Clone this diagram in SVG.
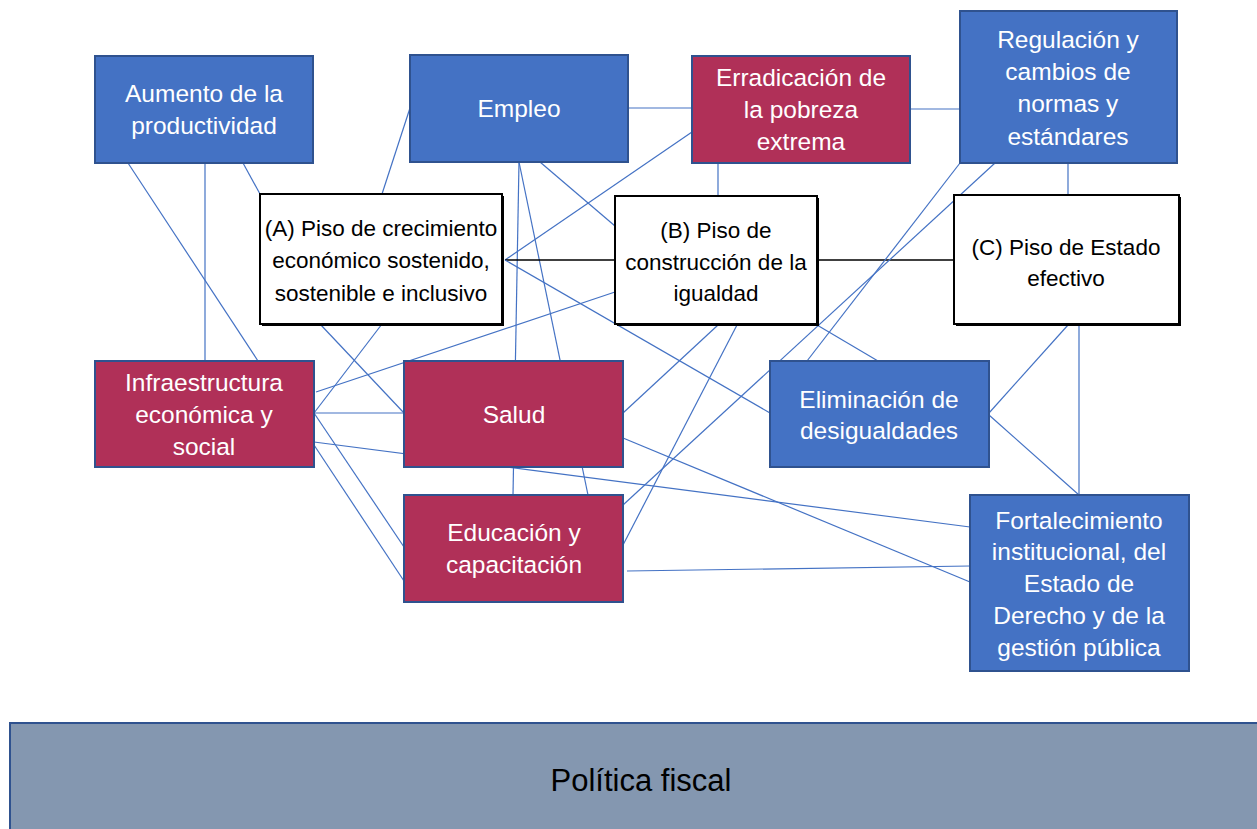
<svg xmlns="http://www.w3.org/2000/svg" width="1257" height="829" viewBox="0 0 1257 829">
<style>
.c{stroke:#4472C4;stroke-width:1.2;fill:none}
.k{stroke:#000;stroke-width:1.5;fill:none}
.b{fill:#4472C4;stroke:#2F528F;stroke-width:2}
.r{fill:#B03058;stroke:#2F528F;stroke-width:2}
.w{fill:#fff;stroke:#000;stroke-width:2}
.sh{fill:#000}
.tw{font-family:"Liberation Sans",Arial,sans-serif;font-size:24.5px;fill:#fff;text-anchor:middle}
.tb{font-family:"Liberation Sans",Arial,sans-serif;font-size:22.5px;fill:#000;text-anchor:middle}
.tf{font-family:"Liberation Sans",Arial,sans-serif;font-size:31px;fill:#000;text-anchor:middle}
</style>
<rect width="1257" height="829" fill="#fff"/>
<g id="connectors">
<line class="c" x1="128" y1="163" x2="258" y2="361"/>
<line class="c" x1="205" y1="163" x2="205" y2="361"/>
<line class="c" x1="243" y1="163" x2="260" y2="194"/>
<line class="c" x1="410" y1="108" x2="382" y2="194"/>
<line class="c" x1="628" y1="108" x2="692" y2="108"/>
<line class="c" x1="519" y1="162" x2="513" y2="495"/>
<line class="c" x1="519" y1="162" x2="588" y2="495"/>
<line class="c" x1="540" y1="162" x2="615" y2="226"/>
<line class="c" x1="692" y1="132" x2="505" y2="260"/>
<line class="c" x1="910" y1="109" x2="960" y2="109"/>
<line class="c" x1="718" y1="163" x2="718" y2="196"/>
<line class="k" x1="505" y1="260" x2="615" y2="260"/>
<line class="k" x1="817" y1="260" x2="954" y2="260"/>
<line class="c" x1="505" y1="260" x2="770" y2="413"/>
<line class="c" x1="817" y1="325" x2="878" y2="361"/>
<line class="c" x1="320" y1="324" x2="404" y2="413"/>
<line class="c" x1="382" y1="324" x2="314" y2="413"/>
<line class="c" x1="314" y1="413" x2="404" y2="413"/>
<line class="c" x1="314" y1="413" x2="404" y2="547"/>
<line class="c" x1="316" y1="392" x2="615" y2="292"/>
<line class="c" x1="314" y1="442" x2="970" y2="527"/>
<line class="c" x1="314" y1="445" x2="404" y2="581"/>
<line class="c" x1="623" y1="413" x2="718" y2="325"/>
<line class="c" x1="623" y1="545" x2="737" y2="325"/>
<line class="c" x1="623" y1="438" x2="970" y2="582"/>
<line class="c" x1="627" y1="571" x2="970" y2="566"/>
<line class="c" x1="960" y1="163" x2="807" y2="361"/>
<line class="c" x1="995" y1="163" x2="623" y2="505"/>
<line class="c" x1="1068" y1="163" x2="1068" y2="195"/>
<line class="c" x1="1068" y1="325" x2="989" y2="413"/>
<line class="c" x1="1079" y1="325" x2="1079" y2="495"/>
<line class="c" x1="989" y1="415" x2="1079" y2="495"/>
</g>
<g id="aumento">
<rect class="b" x="95" y="56" width="218" height="107"/>
<text class="tw" x="204" y="102">Aumento de la</text>
<text class="tw" x="204" y="134">productividad</text>
</g>
<g id="empleo">
<rect class="b" x="410" y="55" width="218" height="107"/>
<text class="tw" x="519" y="117">Empleo</text>
</g>
<g id="erradicacion">
<rect class="r" x="692" y="56" width="218" height="107"/>
<text class="tw" x="801" y="86">Erradicación de</text>
<text class="tw" x="801" y="118">la pobreza</text>
<text class="tw" x="801" y="150">extrema</text>
</g>
<g id="regulacion">
<rect class="b" x="960" y="11" width="217" height="152"/>
<text class="tw" x="1068" y="48">Regulación y</text>
<text class="tw" x="1068" y="80">cambios de</text>
<text class="tw" x="1068" y="112">normas y</text>
<text class="tw" x="1068" y="145">estándares</text>
</g>
<g id="pisoA">
<rect class="sh" x="262" y="196" width="242" height="130"/>
<rect class="w" x="260" y="194" width="242" height="130"/>
<text class="tb" x="381" y="236">(A) Piso de crecimiento</text>
<text class="tb" x="381" y="268">económico sostenido,</text>
<text class="tb" x="381" y="301">sostenible e inclusivo</text>
</g>
<g id="pisoB">
<rect class="sh" x="617" y="198" width="202" height="128"/>
<rect class="w" x="615" y="196" width="202" height="128"/>
<text class="tb" x="716" y="238">(B) Piso de</text>
<text class="tb" x="716" y="270">construcción de la</text>
<text class="tb" x="716" y="301">igualdad</text>
</g>
<g id="pisoC">
<rect class="sh" x="956" y="197" width="225" height="129"/>
<rect class="w" x="954" y="195" width="225" height="129"/>
<text class="tb" x="1066" y="255">(C) Piso de Estado</text>
<text class="tb" x="1066" y="286">efectivo</text>
</g>
<g id="infraestructura">
<rect class="r" x="95" y="361" width="219" height="106"/>
<text class="tw" x="204" y="391">Infraestructura</text>
<text class="tw" x="204" y="423">económica y</text>
<text class="tw" x="204" y="455">social</text>
</g>
<g id="salud">
<rect class="r" x="404" y="361" width="219" height="106"/>
<text class="tw" x="514" y="423">Salud</text>
</g>
<g id="eliminacion">
<rect class="b" x="770" y="361" width="219" height="106"/>
<text class="tw" x="879" y="408">Eliminación de</text>
<text class="tw" x="879" y="439">desigualdades</text>
</g>
<g id="educacion">
<rect class="r" x="404" y="495" width="219" height="107"/>
<text class="tw" x="514" y="541">Educación y</text>
<text class="tw" x="514" y="573">capacitación</text>
</g>
<g id="fortalecimiento">
<rect class="b" x="970" y="495" width="219" height="176"/>
<text class="tw" x="1079" y="529">Fortalecimiento</text>
<text class="tw" x="1079" y="560">institucional, del</text>
<text class="tw" x="1079" y="592">Estado de</text>
<text class="tw" x="1079" y="624">Derecho y de la</text>
<text class="tw" x="1079" y="656">gestión pública</text>
</g>
<g id="politica">
<rect x="10" y="723" width="1260" height="120" fill="#8497B0" stroke="#2F528F" stroke-width="2"/>
<text class="tf" x="641" y="791">Política fiscal</text>
</g>
</svg>
